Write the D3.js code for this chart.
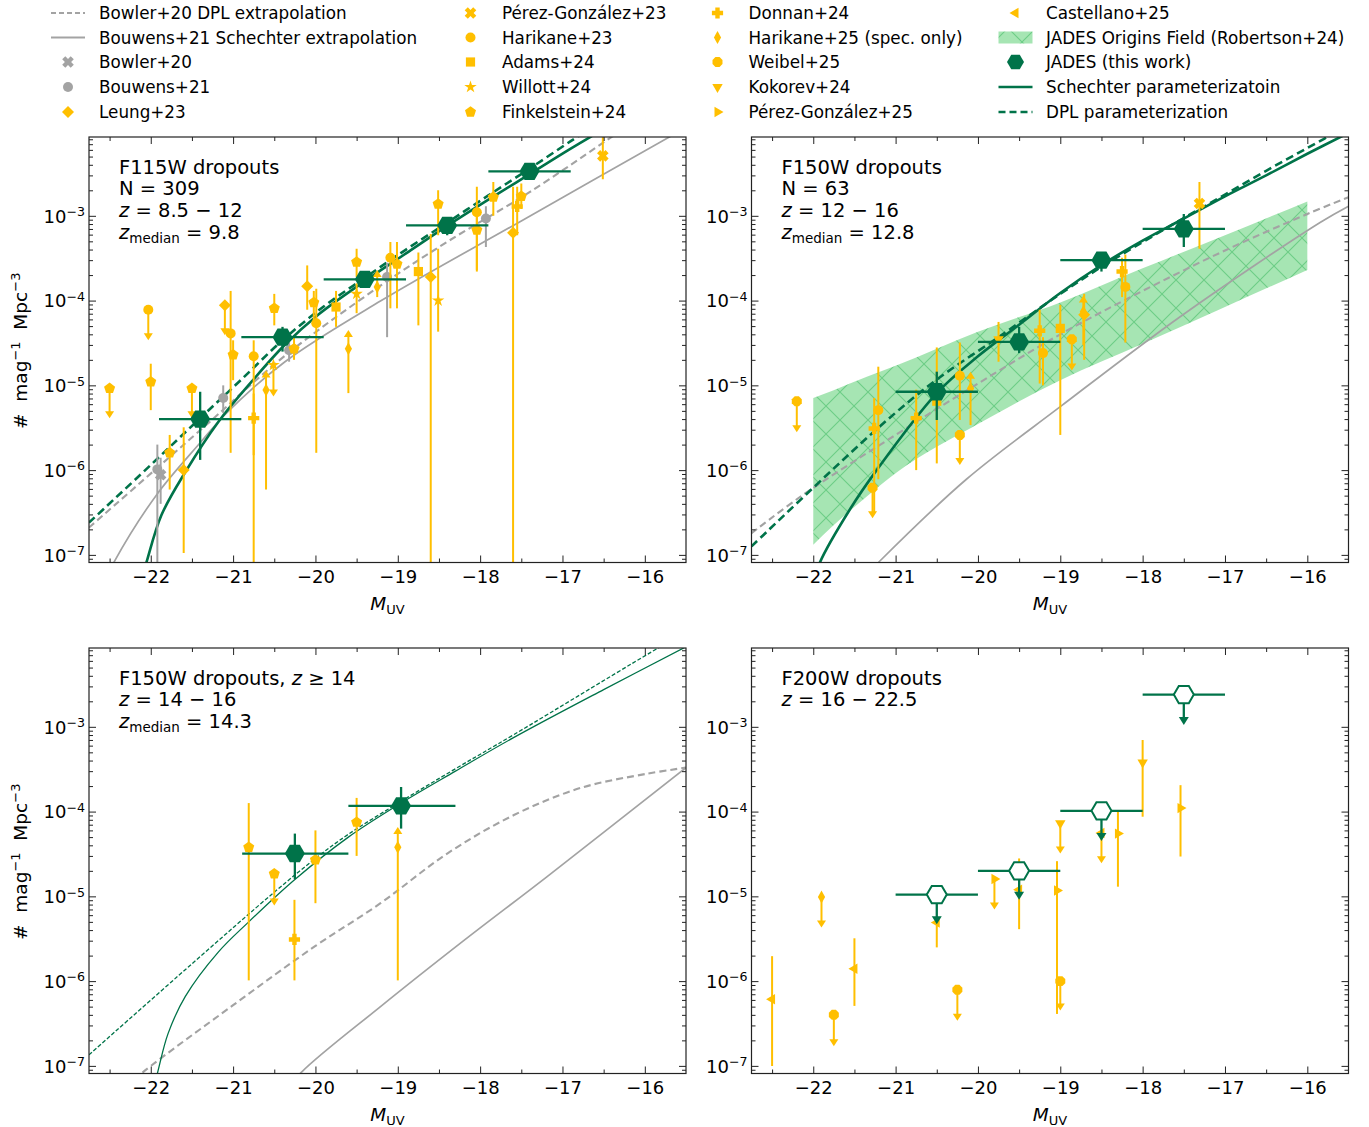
<!DOCTYPE html>
<html>
<head>
<meta charset="utf-8">
<script src="https://cdn.jsdelivr.net/npm/d3@7"></script>
<style>
  body { margin: 0; background: #fff; }
  svg text { font-family: "DejaVu Sans", sans-serif; fill: #000; }
</style>
</head>
<body>
<svg id="chart" width="1369" height="1127"></svg>
<script>
// ---------------- data ----------------
// panels: 0 = F115W, 1 = F150W, 2 = F150W z>=14, 3 = F200W
// point: [panel, M_UV, phi, phiLow, phiHigh, limit]  limit: 1 upper limit (arrow down), -1 lower limit (arrow up)
const bowler20 = [
  [0, -21.88, 8.8e-7, 4.0e-7, 1.4e-6, 0]
];
const bouwens21 = [
  [0, -21.92, 1.02e-6, 7e-8, 2.0e-6, 0],
  [0, -21.12, 7.1e-6, 4.7e-6, 1.0e-5, 0],
  [0, -20.32, 2.6e-5, 1.9e-5, 3.3e-5, 0],
  [0, -19.13, 1.9e-4, 3.7e-5, 2.8e-4, 0],
  [0, -17.93, 9.3e-4, 4.3e-4, 1.3e-3, 0]
];
const leung23 = [
  [0, -21.60, 1.0e-6, 1.05e-7, 3.2e-6, 0],
  [0, -21.10, 8.8e-5, 3.9e-5, null, 1],
  [0, -20.10, 1.48e-4, 7.8e-5, 2.6e-4, 0],
  [0, -18.60, 1.9e-4, 7e-8, 6.1e-4, 0],
  [0, -17.60, 6.3e-4, 7e-8, 2.2e-3, 0],
  [1, -18.71, 6.8e-5, 2.0e-5, 1.2e-4, 0]
];
const perezGonzalez23 = [
  [0, -16.51, 5.1e-3, 2.7e-3, 8.5e-3, 0],
  [1, -17.31, 1.4e-3, 4.1e-4, 2.5e-3, 0]
];
const harikane23 = [
  [0, -22.03, 7.8e-5, 3.4e-5, null, 1],
  [0, -21.03, 4.1e-5, 1.6e-6, 1.3e-4, 0],
  [0, -20.75, 2.2e-5, 7e-8, 3.4e-5, 0],
  [0, -19.99, 5.4e-5, 1.6e-6, 1.38e-4, 0],
  [0, -19.09, 3.2e-4, 8.1e-5, 4.9e-4, 0],
  [0, -18.04, 1.1e-3, 2.3e-4, 2.2e-3, 0],
  [1, -21.21, 5.1e-6, 7.8e-7, 1.66e-5, 0],
  [1, -20.22, 1.3e-5, 3.9e-6, 3.2e-5, 0],
  [1, -19.21, 2.4e-5, 1.0e-5, 3.7e-5, 0],
  [1, -18.21, 1.45e-4, 3.2e-5, 3.5e-4, 0]
];
const adams24 = [
  [0, -19.75, 8.4e-5, 4.9e-5, 1.3e-4, 0],
  [0, -18.75, 2.2e-4, 5.1e-5, 3.7e-4, 0],
  [1, -20.50, 6.5e-6, 1.2e-6, 2.8e-5, 0],
  [1, -19.00, 4.7e-5, 2.6e-6, 8.9e-5, 0]
];
const willott24 = [
  [0, -20.51, 1.74e-5, 7.4e-6, null, 1],
  [0, -19.50, 1.2e-4, 7.1e-5, 1.6e-4, 0],
  [0, -18.51, 1.0e-4, 4.3e-5, 4.1e-4, 0]
];
const finkelstein24 = [
  [0, -22.50, 9.2e-6, 4.1e-6, null, 1],
  [0, -22.00, 1.1e-5, 5.1e-6, 1.8e-5, 0],
  [0, -21.77, 1.6e-6, 5.9e-7, 2.6e-6, 0],
  [0, -21.50, 9.2e-6, 4.1e-6, null, 1],
  [0, -21.00, 2.3e-5, 1.15e-5, 3.4e-5, 0],
  [0, -20.50, 8.1e-5, 5.1e-5, 1.2e-4, 0],
  [0, -20.26, 2.7e-5, 2.0e-5, 3.7e-5, 0],
  [0, -20.02, 9.5e-5, 5.9e-5, 1.3e-4, 0],
  [0, -19.50, 2.85e-4, 1.9e-4, 4.1e-4, 0],
  [0, -19.01, 2.7e-4, 8.1e-5, 4.9e-4, 0],
  [0, -18.51, 1.38e-3, 5.9e-4, 2.0e-3, 0],
  [0, -18.04, 6.8e-4, 2.2e-4, 1.2e-3, 0],
  [0, -17.84, 1.66e-3, 1.0e-3, 2.5e-3, 0],
  [0, -17.50, 1.7e-3, 1.2e-3, 2.4e-3, 0],
  [2, -20.81, 3.8e-5, 1.02e-6, 1.26e-4, 0],
  [2, -20.50, 1.85e-5, 7.8e-6, null, 1],
  [2, -20.00, 2.7e-5, 8.3e-6, 6.0e-5, 0],
  [2, -19.50, 7.5e-5, 3.0e-5, 1.45e-4, 0]
];
const donnan24 = [
  [0, -20.75, 4.1e-6, 1.5e-6, 8e-6, 0],
  [0, -17.55, 1.29e-3, 5.9e-4, 2.2e-3, 0],
  [1, -21.26, 3.1e-6, 3.2e-7, 7.1e-6, 0],
  [1, -20.75, 4.1e-6, 1.0e-6, 8.9e-6, 0],
  [1, -19.25, 4.4e-5, 1.05e-5, 7.8e-5, 0],
  [1, -18.25, 2.2e-4, 1.1e-4, 3.2e-4, 0],
  [2, -20.255, 3.1e-6, 1.02e-6, 9.1e-6, 0]
];
const harikane25 = [
  [0, -20.60, 8.8e-6, 5.9e-7, 1.5e-5, -1],
  [0, -19.60, 2.7e-5, 8.1e-6, 4.5e-5, -1],
  [0, -19.25, 1.45e-4, 1.1e-4, 2.3e-4, -1],
  [1, -20.09, 9.2e-6, 3.4e-6, 1.45e-5, -1],
  [1, -18.72, 7.4e-5, 3.0e-5, 1.15e-4, -1],
  [2, -19.00, 3.8e-5, 1.02e-6, 6.6e-5, -1],
  [3, -21.90, 9.8e-6, 4.3e-6, null, 1]
];
const weibel25 = [
  [1, -22.20, 6.5e-6, 2.8e-6, null, 1],
  [1, -21.28, 6.2e-7, 2.7e-7, null, 1],
  [1, -20.22, 2.6e-6, 1.15e-6, null, 1],
  [1, -18.86, 3.5e-5, 1.5e-5, null, 1],
  [3, -21.75, 4.0e-7, 1.7e-7, null, 1],
  [3, -20.25, 7.9e-7, 3.4e-7, null, 1],
  [3, -19.00, 1.0e-6, 4.5e-7, null, 1]
];
const kokorev24 = [
  [1, -19.75, 3.5e-5, 1.9e-5, 5.6e-5, 0],
  [3, -19.00, 7.3e-5, 3.2e-5, null, 1],
  [3, -18.00, 3.8e-4, 8.7e-5, 7.0e-4, 0]
];
const perezGonzalez25 = [
  [3, -19.80, 1.6e-5, 7.0e-6, null, 1],
  [3, -19.04, 1.17e-5, 4.1e-7, 2.6e-5, 0],
  [3, -18.30, 5.5e-5, 1.3e-5, 1.0e-4, 0],
  [3, -17.54, 1.1e-4, 2.95e-5, 2.05e-4, 0]
];
const castellano25 = [
  [3, -22.50, 6.1e-7, 1.0e-7, 1.97e-6, 0],
  [3, -21.50, 1.4e-6, 5.1e-7, 3.2e-6, 0],
  [3, -20.50, 4.9e-6, 2.5e-6, 5.6e-6, 0],
  [3, -19.50, 1.2e-5, 4.1e-6, 2.8e-5, 0],
  [3, -18.50, 5.6e-5, 2.45e-5, null, 1]
];

// JADES (this work): [M, Mlow, Mhigh, phi, phiLow, phiHigh]
const jadesF115W = [
  [-21.4, -21.9, -20.9, 4.0e-6, 1.32e-6, 8.4e-6],
  [-20.4, -20.9, -19.9, 3.7e-5, 2.5e-5, 4.9e-5],
  [-19.4, -19.9, -18.9, 1.78e-4, 1.5e-4, 2.1e-4],
  [-18.4, -18.9, -17.9, 7.7e-4, 5.9e-4, 9.6e-4],
  [-17.4, -17.9, -16.9, 3.35e-3, 2.75e-3, 4.1e-3]
];
const jadesF150W = [
  [-20.5, -21.0, -20.0, 8.4e-6, 3.9e-6, 1.45e-5],
  [-19.5, -20.0, -19.0, 3.25e-5, 2.4e-5, 4.9e-5],
  [-18.5, -19.0, -18.0, 3.0e-4, 2.2e-4, 3.7e-4],
  [-17.5, -18.0, -17.0, 7.0e-4, 4.3e-4, 1.05e-3]
];
const jadesZ14 = [
  [-20.25, -20.89, -19.6, 3.2e-5, 1.6e-5, 5.5e-5],
  [-18.96, -19.6, -18.3, 1.17e-4, 6.3e-5, 1.95e-4]
];
// upper limits: [M, Mlow, Mhigh, phi, arrowTip]
const jadesF200W = [
  [-20.5, -21.0, -20.0, 1.05e-5, 4.7e-6],
  [-19.5, -20.0, -19.0, 2.0e-5, 9.1e-6],
  [-18.5, -19.0, -18.0, 1.02e-4, 4.5e-5],
  [-17.5, -18.0, -17.0, 2.4e-3, 1.05e-3]
];

// model curves per panel: [M, phi]
const bowlerDPL = [
  [[-22.75, 2.1e-7], [-21.4, 2.95e-6], [-20.38, 2.2e-5], [-19.21, 1.5e-4], [-18.39, 5.0e-4], [-17.4, 1.9e-3], [-16.42, 8.3e-3], [-16.2, 1.15e-2]],
  [[-22.75, 1.8e-7], [-22.15, 4.9e-7], [-21, 2.6e-6], [-20, 1.05e-5], [-19, 4.0e-5], [-18, 1.3e-4], [-17, 3.9e-4], [-16, 1.05e-3], [-15.5, 1.66e-3]],
  [[-22.3, 5.6e-8], [-22.09, 8.5e-8], [-21, 5.2e-7], [-20, 2.6e-6], [-19.21, 8.3e-6], [-18.4, 3.2e-5], [-17.59, 9.1e-5], [-16.78, 1.9e-4], [-15.97, 2.8e-4], [-15.5, 3.3e-4]],
  null
];
const bouwensSchechter = [
  [[-22.6, 4.0e-8], [-22.45, 8.1e-8], [-21.93, 5.1e-7], [-21.4, 2.1e-6], [-21.1, 4.5e-6], [-20.37, 1.9e-5], [-19.2, 1.0e-4], [-17.5, 8.7e-4], [-15.5, 1.1e-2]],
  [[-21.4, 5.2e-8], [-21.2, 8.3e-8], [-20.14, 7.8e-7], [-19.0, 5.6e-6], [-17.54, 6.5e-5], [-15.84, 8.4e-4], [-15.5, 1.3e-3]],
  [[-20.4, 4.5e-8], [-20.165, 8.5e-8], [-19.21, 5.0e-7], [-18.2, 3.0e-6], [-17.19, 1.7e-5], [-15.5, 3.3e-4]],
  null
];
const jadesSchechter = [
  [[-22.1, 5.6e-8], [-22.05, 8.3e-8], [-21.87, 2.95e-7], [-21.58, 9.5e-7], [-21.18, 3.7e-6], [-20.77, 1.12e-5], [-20.38, 2.95e-5], [-19.96, 6.9e-5], [-19.385, 1.74e-4], [-18.9, 3.6e-4], [-18.4, 7.6e-4], [-17.9, 1.55e-3], [-17.4, 3.1e-3], [-16.9, 6.2e-3], [-16.4, 1.2e-2]],
  [[-22.0, 4.5e-8], [-21.92, 8.1e-8], [-21.55, 3.5e-7], [-21.23, 1.0e-6], [-20.5, 8.1e-6], [-20.0, 2.2e-5], [-19.5, 5.2e-5], [-19.0, 1.23e-4], [-18.5, 2.63e-4], [-18.0, 5.1e-4], [-17.5, 9.3e-4], [-17.0, 1.7e-3], [-16.5, 3.0e-3], [-16.0, 5.4e-3], [-15.5, 9.5e-3]],
  [[-22.0, 4.0e-8], [-21.915, 8.5e-8], [-21.79, 2.4e-7], [-21.58, 6.6e-7], [-21.18, 2.2e-6], [-20.81, 5.0e-6], [-20.25, 1.58e-5], [-19.6, 5.0e-5], [-18.96, 1.26e-4], [-18.3, 3.0e-4], [-17.6, 7.4e-4], [-16.5, 2.75e-3], [-15.49, 8.9e-3]],
  null
];
const jadesDPL = [
  [[-22.75, 2.4e-7], [-22.0, 1.15e-6], [-21.4, 4.1e-6], [-20.9, 1.17e-5], [-20.4, 3.4e-5], [-19.9, 8.5e-5], [-19.4, 1.86e-4], [-18.9, 4.0e-4], [-18.4, 8.3e-4], [-17.9, 1.74e-3], [-17.4, 3.6e-3], [-16.9, 7.6e-3], [-16.6, 1.17e-2]],
  [[-22.75, 1.26e-7], [-21.22, 3.1e-6], [-20.5, 1.17e-5], [-19.75, 3.7e-5], [-19.0, 1.2e-4], [-18.5, 2.5e-4], [-18.0, 4.9e-4], [-17.5, 9.4e-4], [-17.0, 1.78e-3], [-16.5, 3.4e-3], [-16.0, 6.3e-3], [-15.5, 1.17e-2]],
  [[-22.75, 1.35e-7], [-21.5, 1.6e-6], [-20.5, 1.12e-5], [-20.0, 2.8e-5], [-19.6, 5.4e-5], [-18.96, 1.32e-4], [-18.3, 3.2e-4], [-17.59, 8.1e-4], [-15.77, 9.3e-3], [-15.5, 1.3e-2]],
  null
];

// JADES Origins Field band (Robertson+24), F150W panel
const jofM    = [-22, -21.76, -21.35, -21, -20, -19, -18, -17, -16];
const jofHigh = [7.1e-6, 8.7e-6, 1.26e-5, 1.7e-5, 4.3e-5, 9.5e-5, 2.4e-4, 5.9e-4, 1.48e-3];
const jofLow  = [1.32e-7, 2.2e-7, 4.9e-7, 9.2e-7, 3.5e-6, 1.15e-5, 3.1e-5, 8.4e-5, 2.3e-4];

const xMajor = [-22, -21, -20, -19, -18, -17, -16];
const xMinor = [-22.5, -21.5, -20.5, -19.5, -18.5, -17.5, -16.5];
const yMajor = [1e-7, 1e-6, 1e-5, 1e-4, 1e-3];
const yMajorExp = ["−7", "−6", "−5", "−4", "−3"];

const panelText = [
  [[["F115W dropouts", ""]], [["N = 309", ""]], [["z", "i"], [" = 8.5 − 12", ""]], [["z", "i"], ["median", "s"], [" = 9.8", ""]]],
  [[["F150W dropouts", ""]], [["N = 63", ""]], [["z", "i"], [" = 12 − 16", ""]], [["z", "i"], ["median", "s"], [" = 12.8", ""]]],
  [[["F150W dropouts, ", ""], ["z", "i"], [" ≥ 14", ""]], [["z", "i"], [" = 14 − 16", ""]], [["z", "i"], ["median", "s"], [" = 14.3", ""]]],
  [[["F200W dropouts", ""]], [["z", "i"], [" = 16 − 22.5", ""]]]
];

// ---------------- styles / layout ----------------
const GOLD = "#ffbf00", GREEN = "#007349", GRAY = "#a3a3a3";
const BANDFILL = "#a6e5b3", HATCH = "#6ccd86";
const PW = 597, PH = 425.5;
const boxes = [{x: 89, y: 137}, {x: 751.5, y: 137}, {x: 89, y: 648}, {x: 751.5, y: 648}];
const xDomain = [-22.75, -15.5];
const yDomain = [8.13e-8, 8.51e-3];

const svg = d3.select("#chart");
const defs = svg.append("defs");

const pat = defs.append("pattern").attr("id", "hatch")
  .attr("patternUnits", "userSpaceOnUse").attr("width", 28).attr("height", 28);
pat.append("rect").attr("width", 28).attr("height", 28).attr("fill", BANDFILL);
pat.append("path").attr("d", "M-2,-2L30,30M-2,30L30,-2")
  .attr("stroke", HATCH).attr("stroke-width", 1.1);

// marker shapes
function poly(n, r, rot) {
  const pts = d3.range(n).map(i => {
    const a = (rot + i * 360 / n) * Math.PI / 180;
    return [r * Math.cos(a), r * Math.sin(a)];
  });
  return "M" + pts.map(p => p[0].toFixed(2) + "," + p[1].toFixed(2)).join("L") + "Z";
}
function plus(r, w) {
  return `M${-w},${-r}H${w}V${-w}H${r}V${w}H${w}V${r}H${-w}V${w}H${-r}V${-w}H${-w}Z`;
}
const shapes = {
  circle: d3.symbol(d3.symbolCircle, Math.PI * 25)(),
  octagon: poly(8, 5.4, 22.5),
  square: "M-4.6,-4.6H4.6V4.6H-4.6Z",
  star: d3.symbol(d3.symbolStar, 48)(),
  pentagon: poly(5, 5.8, -90),
  diamond: poly(4, 6, -90),
  thindiamond: "M0,-6.5L3.6,0L0,6.5L-3.6,0Z",
  tridown: poly(3, 6, 90),
  triright: poly(3, 6, 0),
  trileft: poly(3, 6, 180),
  plus: plus(5.6, 2.2),
  xcross: plus(6, 2.2),
  hexagon: poly(6, 10, 0)
};

const surveys = [
  {data: bowler20, shape: "xcross", color: GRAY},
  {data: bouwens21, shape: "circle", color: GRAY},
  {data: leung23, shape: "diamond", color: GOLD},
  {data: perezGonzalez23, shape: "xcross", color: GOLD},
  {data: harikane23, shape: "circle", color: GOLD},
  {data: adams24, shape: "square", color: GOLD},
  {data: willott24, shape: "star", color: GOLD},
  {data: finkelstein24, shape: "pentagon", color: GOLD},
  {data: donnan24, shape: "plus", color: GOLD},
  {data: harikane25, shape: "thindiamond", color: GOLD},
  {data: weibel25, shape: "octagon", color: GOLD},
  {data: kokorev24, shape: "tridown", color: GOLD},
  {data: perezGonzalez25, shape: "triright", color: GOLD},
  {data: castellano25, shape: "trileft", color: GOLD}
];

function addMarker(g, shape, cx, cy, color) {
  g.append("path").attr("d", shapes[shape])
    .attr("transform", `translate(${cx},${cy})` + (shape === "xcross" ? " rotate(45)" : ""))
    .attr("fill", color);
}
function arrowHead(g, cx, tipY, dir, color, w, h) {
  // dir 1 = pointing down, -1 = pointing up
  g.append("path")
    .attr("d", `M${cx - w},${tipY - dir * h}L${cx + w},${tipY - dir * h}L${cx},${tipY}Z`)
    .attr("fill", color);
}

const AH = 7;

boxes.forEach((b, i) => {
  const x = d3.scaleLinear().domain(xDomain).range([b.x, b.x + PW]);
  const y = d3.scaleLog().domain(yDomain).range([b.y + PH, b.y]);
  defs.append("clipPath").attr("id", "clip" + i)
    .append("rect").attr("x", b.x).attr("y", b.y).attr("width", PW).attr("height", PH);
  const g = svg.append("g").attr("clip-path", `url(#clip${i})`);

  const line = d3.line().x(d => x(d[0])).y(d => y(d[1])).curve(d3.curveCatmullRom.alpha(0.5));

  if (i === 1) {
    const area = d3.area().x(d => x(d)).y0((d, k) => y(jofLow[k])).y1((d, k) => y(jofHigh[k]))
      .curve(d3.curveMonotoneX);
    g.append("path").datum(jofM).attr("d", area).attr("fill", "url(#hatch)");
  }

  const thin = i === 2;
  if (bouwensSchechter[i]) {
    g.append("path").datum(bouwensSchechter[i]).attr("d", line)
      .attr("fill", "none").attr("stroke", GRAY).attr("stroke-width", 1.7);
    g.append("path").datum(bowlerDPL[i]).attr("d", line)
      .attr("fill", "none").attr("stroke", GRAY).attr("stroke-width", 2.1)
      .attr("stroke-dasharray", "7,4");
    g.append("path").datum(jadesSchechter[i]).attr("d", line)
      .attr("fill", "none").attr("stroke", GREEN).attr("stroke-width", thin ? 1.3 : 2.6);
    g.append("path").datum(jadesDPL[i]).attr("d", line)
      .attr("fill", "none").attr("stroke", GREEN).attr("stroke-width", thin ? 1.3 : 2.6)
      .attr("stroke-dasharray", thin ? "4,2" : "8,4.5");
  }

  // literature points
  surveys.forEach(s => {
    s.data.filter(d => d[0] === i).forEach(d => {
      const [, M, phi, lo, hi, lim] = d;
      const cx = x(M), cy = y(phi);
      const eg = g.append("g");
      if (lim === 1) {
        const top = hi != null ? y(hi) : cy;
        eg.append("line").attr("x1", cx).attr("x2", cx).attr("y1", top).attr("y2", y(lo) - AH + 1)
          .attr("stroke", s.color).attr("stroke-width", 2);
        arrowHead(eg, cx, y(lo), 1, s.color, 4.5, AH);
      } else if (lim === -1) {
        const bot = lo != null ? y(lo) : cy;
        eg.append("line").attr("x1", cx).attr("x2", cx).attr("y1", bot).attr("y2", y(hi) + AH - 1)
          .attr("stroke", s.color).attr("stroke-width", 2);
        arrowHead(eg, cx, y(hi), -1, s.color, 4.5, AH);
      } else if (lo != null) {
        eg.append("line").attr("x1", cx).attr("x2", cx).attr("y1", y(lo)).attr("y2", y(hi))
          .attr("stroke", s.color).attr("stroke-width", 2);
      }
      addMarker(eg, s.shape, cx, cy, s.color);
    });
  });

  // JADES this work
  const jg = g.append("g");
  const filled = [jadesF115W, jadesF150W, jadesZ14, null][i];
  if (filled) {
    filled.forEach(d => {
      const [M, m0, m1, phi, lo, hi] = d;
      jg.append("line").attr("x1", x(m0)).attr("x2", x(m1)).attr("y1", y(phi)).attr("y2", y(phi))
        .attr("stroke", GREEN).attr("stroke-width", 2.3);
      jg.append("line").attr("x1", x(M)).attr("x2", x(M)).attr("y1", y(lo)).attr("y2", y(hi))
        .attr("stroke", GREEN).attr("stroke-width", 2.3);
      jg.append("path").attr("d", shapes.hexagon).attr("transform", `translate(${x(M)},${y(phi)})`)
        .attr("fill", GREEN);
    });
  } else {
    jadesF200W.forEach(d => {
      const [M, m0, m1, phi, tip] = d;
      jg.append("line").attr("x1", x(m0)).attr("x2", x(m1)).attr("y1", y(phi)).attr("y2", y(phi))
        .attr("stroke", GREEN).attr("stroke-width", 2.3);
      jg.append("line").attr("x1", x(M)).attr("x2", x(M)).attr("y1", y(phi)).attr("y2", y(tip) - 7)
        .attr("stroke", GREEN).attr("stroke-width", 2.3);
      arrowHead(jg, x(M), y(tip), 1, GREEN, 5, 8);
      jg.append("path").attr("d", shapes.hexagon).attr("transform", `translate(${x(M)},${y(phi)})`)
        .attr("fill", "#fff").attr("stroke", GREEN).attr("stroke-width", 2);
    });
  }

  // axes: ticks inward on all sides
  const yMinor = [];
  for (let e = -8; e <= -3; e++) for (let m = 2; m <= 9; m++) {
    const v = m * Math.pow(10, e);
    if (v > yDomain[0] && v < yDomain[1]) yMinor.push(v);
  }
  const ax = svg.append("g").attr("class", "axes");
  const styleAxis = sel => { sel.select(".domain").remove(); sel.selectAll("line").attr("stroke", "#222").attr("stroke-width", 1); };
  ax.append("g").attr("transform", `translate(0,${b.y + PH})`)
    .call(d3.axisBottom(x).tickValues(xMajor).tickSize(-7).tickPadding(8).tickFormat(d3.format("d")))
    .call(styleAxis)
    .selectAll("text").attr("font-size", 18).attr("font-family", "DejaVu Sans").attr("fill", "#000");
  ax.append("g").attr("transform", `translate(0,${b.y + PH})`)
    .call(d3.axisBottom(x).tickValues(xMinor).tickSize(-4).tickFormat("")).call(styleAxis);
  ax.append("g").attr("transform", `translate(0,${b.y})`)
    .call(d3.axisTop(x).tickValues(xMajor).tickSize(-7).tickFormat("")).call(styleAxis);
  ax.append("g").attr("transform", `translate(0,${b.y})`)
    .call(d3.axisTop(x).tickValues(xMinor).tickSize(-4).tickFormat("")).call(styleAxis);
  ax.append("g").attr("transform", `translate(${b.x},0)`)
    .call(d3.axisLeft(y).tickValues(yMajor).tickSize(-7).tickFormat("")).call(styleAxis);
  ax.append("g").attr("transform", `translate(${b.x},0)`)
    .call(d3.axisLeft(y).tickValues(yMinor).tickSize(-4).tickFormat("")).call(styleAxis);
  ax.append("g").attr("transform", `translate(${b.x + PW},0)`)
    .call(d3.axisRight(y).tickValues(yMajor).tickSize(-7).tickFormat("")).call(styleAxis);
  ax.append("g").attr("transform", `translate(${b.x + PW},0)`)
    .call(d3.axisRight(y).tickValues(yMinor).tickSize(-4).tickFormat("")).call(styleAxis);
  ax.append("rect").attr("x", b.x).attr("y", b.y).attr("width", PW).attr("height", PH)
    .attr("fill", "none").attr("stroke", "#222").attr("stroke-width", 1.2);

  // y tick labels 10^n
  yMajor.forEach((v, k) => {
    const t = ax.append("text").attr("x", b.x - 4).attr("y", y(v) + 6.7)
      .attr("text-anchor", "end").attr("font-size", 18);
    t.append("tspan").text("10");
    t.append("tspan").attr("font-size", 12.6).attr("dy", -6.5).text(yMajorExp[k]);
  });

  // x label
  const xl = ax.append("text").attr("x", b.x + PW / 2).attr("y", b.y + PH + 47.5)
    .attr("text-anchor", "middle").attr("font-size", 18.5);
  xl.append("tspan").attr("font-style", "italic").text("M");
  xl.append("tspan").attr("font-size", 13).attr("dy", 4).text("UV");

  // y label on left panels
  if (i % 2 === 0) {
    const yl = ax.append("text").attr("transform", `translate(27,${b.y + PH / 2 + 1}) rotate(-90)`)
      .attr("text-anchor", "middle").attr("font-size", 18.5).style("white-space", "pre");
    yl.append("tspan").text("#  mag");
    yl.append("tspan").attr("font-size", 13).attr("dy", -7).text("−1");
    yl.append("tspan").attr("dy", 7).text("  Mpc");
    yl.append("tspan").attr("font-size", 13).attr("dy", -7).text("−3");
  }

  // panel annotation
  panelText[i].forEach((ln, k) => {
    const t = ax.append("text").attr("x", b.x + 30).attr("y", b.y + 36.5 + k * 21.7)
      .attr("font-size", 19.5).style("white-space", "pre");
    let shifted = false;
    ln.forEach(([txt, st]) => {
      const sp = t.append("tspan").text(txt);
      if (st === "i") sp.attr("font-style", "italic");
      if (st === "s") { sp.attr("font-size", 13.5).attr("dy", 4.5); shifted = true; }
      else if (shifted) { sp.attr("dy", -4.5); shifted = false; }
    });
  });
});

// ---------------- legend ----------------
const LEG_Y = [13, 37.5, 62, 87, 112];
const legendCols = [
  {mx: 68, tx: 99, items: [
    {type: "line", color: GRAY, dash: "5,3", w: 2, label: "Bowler+20 DPL extrapolation"},
    {type: "line", color: GRAY, dash: null, w: 2, label: "Bouwens+21 Schechter extrapolation"},
    {type: "marker", shape: "xcross", color: GRAY, label: "Bowler+20"},
    {type: "marker", shape: "circle", color: GRAY, label: "Bouwens+21"},
    {type: "marker", shape: "diamond", color: GOLD, label: "Leung+23"}]},
  {mx: 470.5, tx: 502, items: [
    {type: "marker", shape: "xcross", color: GOLD, label: "Pérez-González+23"},
    {type: "marker", shape: "circle", color: GOLD, label: "Harikane+23"},
    {type: "marker", shape: "square", color: GOLD, label: "Adams+24"},
    {type: "marker", shape: "star", color: GOLD, label: "Willott+24"},
    {type: "marker", shape: "pentagon", color: GOLD, label: "Finkelstein+24"}]},
  {mx: 717.5, tx: 748.5, items: [
    {type: "marker", shape: "plus", color: GOLD, label: "Donnan+24"},
    {type: "marker", shape: "thindiamond", color: GOLD, label: "Harikane+25 (spec. only)"},
    {type: "marker", shape: "octagon", color: GOLD, label: "Weibel+25"},
    {type: "marker", shape: "tridown", color: GOLD, label: "Kokorev+24"},
    {type: "marker", shape: "triright", color: GOLD, label: "Pérez-González+25"}]},
  {mx: 1015.5, tx: 1046, items: [
    {type: "marker", shape: "trileft", color: GOLD, label: "Castellano+25"},
    {type: "band", label: "JADES Origins Field (Robertson+24)"},
    {type: "marker", shape: "hexagon", color: GREEN, label: "JADES (this work)"},
    {type: "line", color: GREEN, dash: null, w: 2.6, label: "Schechter parameterizatoin"},
    {type: "line", color: GREEN, dash: "7,4", w: 2.6, label: "DPL parameterization"}]}
];
const leg = svg.append("g");
legendCols.forEach(col => {
  col.items.forEach((it, k) => {
    const cy = LEG_Y[k];
    if (it.type === "line") {
      leg.append("line").attr("x1", col.mx - 17).attr("x2", col.mx + 17).attr("y1", cy).attr("y2", cy)
        .attr("stroke", it.color).attr("stroke-width", it.w).attr("stroke-dasharray", it.dash);
    } else if (it.type === "band") {
      leg.append("rect").attr("x", col.mx - 17).attr("y", cy - 6).attr("width", 34).attr("height", 12)
        .attr("fill", "url(#hatch)");
    } else {
      const s = it.shape === "hexagon" ? 0.85 : 1;
      leg.append("path").attr("d", shapes[it.shape])
        .attr("transform", `translate(${col.mx},${cy}) scale(${s})` + (it.shape === "xcross" ? " rotate(45)" : ""))
        .attr("fill", it.color);
    }
    leg.append("text").attr("x", col.tx).attr("y", cy + 6).attr("font-size", 16.8).text(it.label);
  });
});
</script>
</body>
</html>
